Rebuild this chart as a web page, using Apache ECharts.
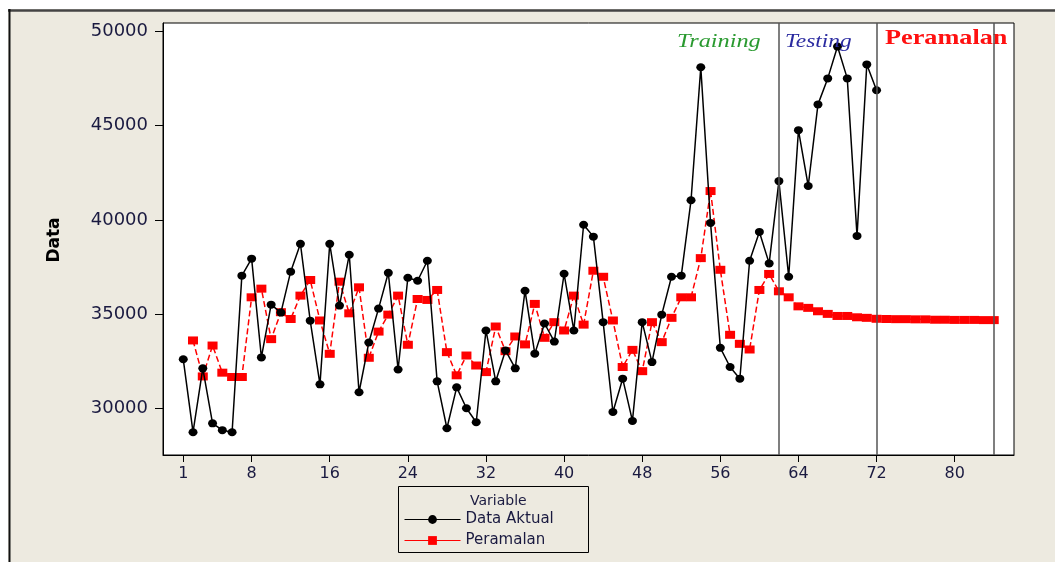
<!DOCTYPE html>
<html>
<head>
<meta charset="utf-8">
<script src="https://cdn.jsdelivr.net/npm/echarts@6/dist/echarts.min.js"></script>
<style>
html,body{margin:0;padding:0;background:#fff;}
#c{width:1055px;height:562px;}
</style>
</head>
<body>
<div id="c"></div>
<script>
// ---- data ----
var dataAktual = [32600, 28730, 32120, 29200, 28840, 28730, 37040, 37940, 32700, 35500,
  35080, 37250, 38730, 34650, 31270, 38730, 35450, 38150, 30850, 33490,
  35290, 37190, 32060, 36930, 36770, 37830, 31430, 28940, 31110, 30000,
  29260, 34130, 31430, 33070, 32120, 36240, 32900, 34500, 33540, 37140,
  34130, 39740, 39110, 34570, 29800, 31570, 29330, 34570, 32450, 34970,
  36980, 37040, 41040, 48100, 39840, 33210, 32190, 31570, 37830, 39360,
  37690, 42060, 36980, 44760, 41800, 46130, 47510, 49200, 47510, 39150,
  48250, 46880];
var peramalan = [null, 33600, 31690, 33330, 31890, 31660, 31660, 35890, 36350, 33670,
  35100, 34740, 35980, 36810, 34660, 32890, 36720, 35040, 36420, 32680,
  34070, 34970, 35980, 33370, 35800, 35750, 36280, 32980, 31750, 32800,
  32270, 31920, 34340, 33030, 33810, 33390, 35540, 33740, 34570, 34130,
  35980, 34440, 37300, 36980, 34660, 32190, 33100, 31970, 34570, 33510,
  34800, 35890, 35890, 37970, 41530, 37350, 33900, 33420, 33120, 36280,
  37130, 36210, 35890, 35410, 35330, 35150, 35010, 34900, 34900, 34830,
  34800, 34750, 34740, 34730, 34730, 34720, 34720, 34700, 34700, 34690,
  34690, 34690, 34680, 34680];
var xTicks = [1, 8, 16, 24, 32, 40, 48, 56, 64, 72, 80];
var yTicks = [30000, 35000, 40000, 45000, 50000];
var boundaries = [62, 72, 84];
var seriesNames = ['Data Aktual', 'Peramalan'];
var regionLabels = ['Training', 'Testing', 'Peramalan'];

function toPairs(arr) {
  return arr.map(function (v, i) { return [i + 1, v]; });
}

var txtColor = '#1a1a40';
var chart = echarts.init(document.getElementById('c'), null, {renderer: 'canvas'});
chart.setOption({
  animation: false,
  backgroundColor: '#EDEAE0',
  grid: {
    left: 163, top: 23, right: 41, bottom: 107,
    show: true, backgroundColor: '#ffffff', borderColor: '#000', borderWidth: 1
  },
  xAxis: {
    type: 'value', min: -1.075, max: 86.075,
    axisLine: {show: true, onZero: false, lineStyle: {color: '#000', width: 1}},
    splitLine: {show: false},
    axisTick: {show: true, length: 7, customValues: xTicks, lineStyle: {color: '#000'}},
    axisLabel: {customValues: xTicks, margin: 11, color: txtColor, fontSize: 16,
      fontFamily: 'DejaVu Sans', formatter: function (v) { return String(v); }}
  },
  yAxis: {
    type: 'value', min: 27520, max: 50450,
    axisLine: {show: true, onZero: false, lineStyle: {color: '#000', width: 1}},
    splitLine: {show: false},
    axisTick: {show: true, length: 8, customValues: yTicks, lineStyle: {color: '#000'}},
    axisLabel: {customValues: yTicks, margin: 15, color: txtColor, fontSize: 18,
      fontFamily: 'DejaVu Sans', formatter: function (v) { return String(v); }}
  },
  legend: {
    left: 404, top: 512, orient: 'vertical', itemWidth: 56, itemHeight: 11, itemGap: 6,
    padding: 0,
    textStyle: {color: txtColor, fontSize: 15, fontFamily: 'DejaVu Sans'},
    data: [
      {name: seriesNames[0], lineStyle: {type: 'solid', width: 1, color: '#000'}},
      {name: seriesNames[1], lineStyle: {type: 'solid', width: 1, color: '#ff0000'}}
    ]
  },
  graphic: [
    {type: 'rect', shape: {x: 0, y: 0, width: 1055, height: 9}, style: {fill: '#fff'}, z: -1},
    {type: 'rect', shape: {x: 0, y: 0, width: 8, height: 562}, style: {fill: '#fff'}, z: -1},
    {type: 'line', shape: {x1: 8, y1: 10.5, x2: 1055, y2: 10.5}, style: {stroke: '#444', lineWidth: 2.5}},
    {type: 'line', shape: {x1: 9.5, y1: 9, x2: 9.5, y2: 562}, style: {stroke: '#111', lineWidth: 2}},
    {type: 'rect', shape: {x: 398.5, y: 486.5, width: 190, height: 66},
      style: {fill: '#EDEAE0', stroke: '#000', lineWidth: 1}, z: 1},
    {type: 'text', x: 470, y: 494, z: 5,
      style: {text: 'Variable', fill: txtColor, font: '14px "DejaVu Sans"'}},
    {type: 'text', x: 55, y: 240, rotation: Math.PI / 2, z: 5,
      style: {text: 'Data', fill: '#000', font: 'bold 17px "DejaVu Sans"',
        align: 'center', verticalAlign: 'middle'}},
    {type: 'text', x: 677, y: 42, scaleX: 1.35, z: 5,
      style: {text: regionLabels[0], fill: '#2a9a30', font: 'italic 18px "Liberation Serif"',
        verticalAlign: 'middle'}},
    {type: 'text', x: 785, y: 42, scaleX: 1.3, z: 5,
      style: {text: regionLabels[1], fill: '#2a2aa0', font: 'italic 18px "Liberation Serif"',
        verticalAlign: 'middle'}},
    {type: 'text', x: 885, y: 39, scaleX: 1.25, z: 5,
      style: {text: regionLabels[2], fill: '#ff1010', font: 'bold 21px "Liberation Serif"',
        verticalAlign: 'middle'}}
  ],
  series: [
    {
      name: seriesNames[0], type: 'line', data: toPairs(dataAktual),
      symbol: 'circle', symbolSize: [9, 8], z: 4,
      itemStyle: {color: '#000'},
      lineStyle: {color: '#000', width: 1.5},
      markLine: {
        silent: true, symbol: 'none', label: {show: false},
        lineStyle: {color: '#555', width: 1.5, type: 'solid'},
        data: boundaries.map(function (b) { return {xAxis: b}; })
      }
    },
    {
      name: seriesNames[1], type: 'line', data: toPairs(peramalan),
      symbol: 'rect', symbolSize: [10, 8], z: 3,
      itemStyle: {color: '#ff0000'},
      lineStyle: {color: '#ff0000', width: 1.5, type: [6, 3]}
    }
  ]
});
</script>
</body>
</html>
